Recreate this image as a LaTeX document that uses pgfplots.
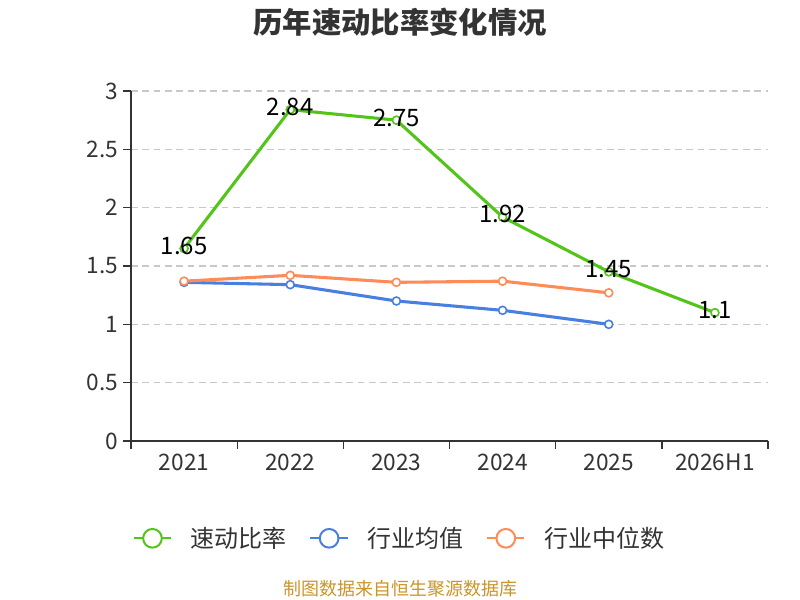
\documentclass[border=0pt]{standalone}
\usepackage{pgfplots}
\pgfplotsset{compat=1.18}
\usepackage{fontspec}
\setmainfont{Noto Sans CJK SC}
\definecolor{cgreen}{RGB}{82,196,26}
\definecolor{cblue}{RGB}{74,127,226}
\definecolor{corange}{RGB}{255,139,87}
\definecolor{ctext}{RGB}{51,51,51}
\definecolor{cgrid}{RGB}{200,200,200}
\definecolor{csrc}{RGB}{204,148,40}
\begin{document}
\begin{tikzpicture}[x=1pt,y=1pt]
\path[use as bounding box] (0,0) rectangle (600,450);
\node[font=\fontsize{22}{26}\selectfont\bfseries, text=ctext] at (300,433.5) {历年速动比率变化情况};
\begin{axis}[
  at={(98.25pt,119.25pt)}, anchor=south west,
  scale only axis, width=477.75pt, height=262.5pt,
  xmin=-0.5, xmax=5.5, ymin=0, ymax=3,
  axis x line*=bottom, axis y line*=left,
  axis line style={ctext, line width=1pt, -},
  xtick={-0.5,0.5,1.5,2.5,3.5,4.5,5.5}, x tick label as interval,
  xticklabels={2021,2022,2023,2024,2025,2026H1},
  ytick={0,0.5,1,1.5,2,2.5,3},
  tick align=outside, major tick length=6pt,
  tick style={ctext, line width=1pt},
  ymajorgrids, grid style={cgrid, dash pattern=on 5pt off 3.5pt, line width=0.8pt},
  ticklabel style={font=\fontsize{17}{20}\selectfont, text=ctext},
  /pgf/number format/assume math mode=true,
  legend style={at={(0.422,-0.278)}, anchor=center, draw=none, fill=none,
    font=\fontsize{18}{22}\selectfont, text=ctext,
    /tikz/every odd column/.append style={column sep=12pt},
    /tikz/every even column/.append style={column sep=15pt}},
  legend columns=3,
  legend image code/.code={\draw[#1,mark=none,line width=1.5pt] (0pt,0pt) -- (28pt,0pt);
    \draw[#1,mark=none,line width=1.5pt,fill=white] (14pt,0pt) circle (7pt);},
  clip=false,
]
\addplot[cgreen, line width=2.3pt, mark=*, mark size=3pt,
  mark options={fill=white, draw=cgreen, line width=1.2pt},
  point meta=explicit symbolic,
  nodes near coords, nodes near coords style={anchor=center, yshift=2pt, font=\fontsize{18}{22}\selectfont, text=black}]
  table[meta=lab] {
x y lab
0 1.65 1.65
1 2.84 2.84
2 2.75 2.75
3 1.92 1.92
4 1.45 1.45
5 1.1 1.1
};
\addlegendentry{速动比率}
\addplot[cblue, line width=2.3pt, mark=*, mark size=3pt,
  mark options={fill=white, draw=cblue, line width=1.2pt}]
  table {
x y
0 1.36
1 1.34
2 1.20
3 1.12
4 1.00
};
\addlegendentry{行业均值}
\addplot[corange, line width=2.3pt, mark=*, mark size=3pt,
  mark options={fill=white, draw=corange, line width=1.2pt}]
  table {
x y
0 1.37
1 1.42
2 1.36
3 1.37
4 1.27
};
\addlegendentry{行业中位数}
\end{axis}
\node[font=\fontsize{13.5}{16}\selectfont, text=csrc] at (300,8.25) {制图数据来自恒生聚源数据库};
\end{tikzpicture}
\end{document}
